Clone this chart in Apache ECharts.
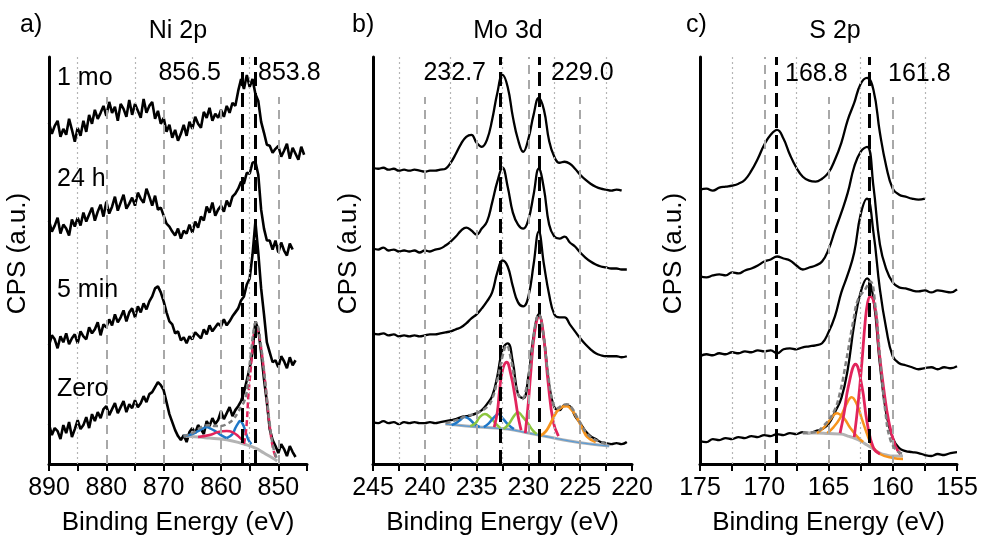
<!DOCTYPE html>
<html>
<head>
<meta charset="utf-8">
<script src="https://cdn.jsdelivr.net/npm/echarts@6/dist/echarts.min.js"></script>
<style>
  html, body { margin: 0; background: #fff; }
  #chart { width: 982px; height: 541px; }
</style>
</head>
<body>
<div id="chart"></div>
<script>
// ---- panel a) Ni 2p ----
const niEnergy = [
  890, 889.5, 889, 888.5, 888, 887.5, 887, 886.5, 886, 885.5,
  885, 884.5, 884, 883.5, 883, 882.5, 882, 881.5, 881, 880.5,
  880, 879.5, 879, 878.5, 878, 877.5, 877, 876.5, 876, 875.5,
  875, 874.5, 874, 873.5, 873, 872.5, 872, 871.5, 871, 870.5,
  870, 869.5, 869, 868.5, 868, 867.5, 867, 866.5, 866, 865.5,
  865, 864.5, 864, 863.5, 863, 862.5, 862, 861.5, 861, 860.5,
  860, 859.5, 859, 858.5, 858, 857.5, 857, 856.5, 856, 855.5,
  855, 854.5, 854, 853.5, 853, 852.5, 852, 851.5, 851, 850.5,
  850, 849.5, 849, 848.5, 848, 847.5, 847, 846.5, 846, 845.5
]
const ni1mo = [
  342, 331, 339, 344, 328, 336, 330, 346, 335, 323,
  337, 329, 344, 333, 350, 341, 355, 346, 352, 359,
  349, 363, 352, 358, 344, 361, 356, 348, 365, 350,
  361, 354, 347, 366, 352, 359, 363, 346, 354, 341,
  347, 333, 340, 327, 335, 324, 331, 340, 329, 343,
  336, 348, 341, 337, 353, 347, 357, 344, 351, 347,
  355, 348, 359, 352, 362, 359, 374, 386, 376, 390,
  378, 386, 371, 364, 343, 332, 320, 319, 312, 316,
  319, 308, 314, 321, 306, 317, 311, 305, 318, 310
]
const ni24h = [
  244, 233, 239, 247, 231, 240, 236, 229, 245, 238,
  247, 239, 252, 243, 250, 257, 244, 253, 260, 248,
  263, 251, 258, 268, 254, 262, 270, 256, 261, 267,
  259, 272, 266, 262, 276, 268, 259, 269, 255, 257,
  249, 241, 238, 233, 229, 236, 226, 234, 231, 240,
  232, 243, 237, 248, 244, 258, 252, 262, 249, 255,
  259, 253, 264, 258, 268, 271, 276, 283, 281, 292,
  291, 302, 303, 290, 255, 236, 224, 224, 215, 224,
  212, 222, 214, 209, 221, 215, null, null, null, null
]
const ni5min = [
  119, 129, 125, 116, 128, 122, 131, 120, 126, 130,
  121, 133, 128, 125, 137, 131, 135, 142, 129, 140,
  137, 145, 139, 150, 142, 147, 154, 143, 152, 156,
  147, 158, 152, 161, 155, 163, 168, 176, 178, 172,
  163, 152, 143, 140, 131, 133, 124, 127, 121, 128,
  125, 132, 129, 126, 135, 130, 139, 133, 137, 141,
  138, 145, 139, 143, 148, 152, 156, 164, 168, 180,
  186, 210, 243, 212, 176, 150, 122, 112, 102, 104,
  97, 108, 103, 96, 107, 99, 104, null, null, null
]
const niZero = [
  40, 29, 36, 33, 25, 39, 31, 42, 27, 35,
  44, 35, 39, 47, 36, 50, 43, 52, 46, 55,
  58, 49, 55, 61, 51, 57, 63, 52, 60, 56,
  64, 57, 61, 68, 62, 70, 72, 77, 82, 79,
  74, 62, 50, 42, 34, 28, 24, 29, 22, 32,
  36, 31, 39, 35, 30, 43, 38, 46, 40, 44,
  53, 45, 51, 57, 48, 54, 58, 63, 72, 84,
  96, 112, 143, 135, 112, 85, 62, 35, 24, 18,
  11, 20, 15, 8, 18, 12, 7, null, null, null
]
// fitted components of the Zero spectrum, [eV, counts]
const niBackground = [[866.5, 28], [864, 27], [862, 26], [860, 25], [858, 23], [856, 20], [854, 16], [852.5, 11], [851, 6], [850.2, 3]]
const niBlue1 = [[866.5, 28], [865, 30], [864, 33], [863, 36], [862.5, 37], [862, 36], [861, 33], [860, 29], [859, 26]]
const niBlue2 = [[859, 26], [858, 30], [857.5, 36], [857, 41], [856.7, 43], [856.2, 40], [855.7, 32], [855.2, 24], [854.7, 20]]
const niRed1 = [[864, 27], [862, 29], [860.5, 32], [859, 33], [858, 32], [857, 28], [856, 22]]
const niRed2 = [[856, 20], [855.6, 35], [855.2, 70], [854.7, 103], [854.3, 128], [853.9, 137], [853.5, 133], [853.2, 124], [852.6, 98], [852, 65], [851.5, 38], [850.9, 15], [850.3, 5]]
const niEnvelope = [[866.5, 28], [865, 31], [864, 35], [863, 38], [862, 39], [861, 38], [860, 38], [859, 40], [858, 44], [857, 52], [856.5, 58], [856, 62], [855.6, 70], [855.2, 90], [854.7, 115], [854.3, 134], [853.9, 142], [853.5, 137], [853.2, 126], [852.6, 99], [852, 66], [851.5, 40], [850.9, 17], [850.3, 6]]
const niMarks = [856.3, 854.0]
const niPeakLabels = ['856.5', '853.8']
const niSeriesNames = ['1 mo', '24 h', '5 min', 'Zero']

// ---- panel b) Mo 3d ----
const moEnergy = [
  245, 244.5, 244, 243.5, 243, 242.5, 242, 241.5, 241, 240.5,
  240, 239.5, 239, 238.5, 238, 237.5, 237, 236.5, 236, 235.5,
  235, 234.5, 234, 233.5, 233, 232.5, 232, 231.5, 231, 230.5,
  230, 229.5, 229, 228.5, 228, 227.5, 227, 226.5, 226, 225.5,
  225, 224.5, 224, 223.5, 223, 222.5, 222, 221.5, 221, 220.5
]
const mo1mo = [
  297, 296, 297, 295, 296, 294, 295, 294, 295, 294,
  293, 294, 294, 295, 296, 302, 311, 321, 328, 330,
  322, 318, 325, 345, 372, 390, 378, 348, 325, 313,
  326, 350, 367, 355, 324, 308, 302, 303, 301, 296,
  290, 285, 281, 278, 276, 275, 274, 275, 274, null
]
const mo24h = [
  216, 215, 217, 214, 215, 213, 214, 213, 214, 212,
  214, 213, 215, 216, 219, 223, 228, 234, 237, 234,
  230, 236, 243, 262, 283, 297, 278, 252, 240, 236,
  245, 270, 296, 276, 240, 228, 226, 228, 222, 218,
  212, 207, 203, 200, 198, 197, 196, 196, 195, 195
]
const mo5min = [
  131, 130, 131, 129, 130, 128, 129, 128, 129, 128,
  129, 130, 130, 131, 132, 133, 135, 137, 141, 146,
  150, 156, 163, 172, 192, 204, 198, 178, 162, 158,
  168, 200, 233, 200, 170, 150, 147, 147, 140, 133,
  126, 120, 115, 111, 109, 108, 108, 108, 107, 108
]
const moZero = [
  42, 41, 43, 41, 42, 40, 42, 41, 42, 41,
  41, 42, 41, 42, 43, 44, 45, 47, 48, 49,
  51, 54, 60, 68, 88, 115, 121, 102, 70, 66,
  88, 128, 150, 125, 80, 57, 54, 59, 58, 48,
  41, 33, 28, 25, 22, 21, 20, 21, 20, 22
]
const moBackground = [[238, 40], [236, 38], [234, 36.5], [232, 35], [230, 31], [228, 27], [226, 23], [224, 20], [222.2, 18]]
const moBlue1 = [[237.4, 39], [237, 41], [236.6, 44], [236.15, 47], [235.7, 45], [235.2, 40], [234.7, 37]]
const moGreen1 = [[235.6, 38], [235.1, 41], [234.7, 47], [234.2, 50], [233.7, 47], [233.2, 41], [232.7, 36]]
const moBlue2 = [[234.3, 37], [233.8, 41], [233.3, 47], [232.9, 50], [232.5, 46], [232, 40], [231.4, 35]]
const moGreen2 = [[232.4, 35], [231.9, 40], [231.4, 48], [231, 52], [230.6, 48], [230, 40], [229.6, 34], [229.2, 30]]
const moRed1 = [[233.3, 37], [233.0, 52], [232.8, 72], [232.5, 94], [232.1, 102], [231.7, 90], [231.3, 68], [231.0, 48], [230.7, 34]]
const moRed2 = [[230.3, 31], [230.0, 62], [229.8, 88], [229.4, 132], [228.95, 148], [228.55, 130], [228.1, 82], [227.6, 42], [227.1, 28]]
const moOrange = [[228.9, 28], [228.3, 33], [227.8, 42], [227.3, 52], [226.8, 57], [226.3, 58], [225.8, 54], [225.3, 46], [224.8, 36], [224.3, 27], [223.5, 22]]
const moEnvelope = [[238, 41], [237, 44], [236, 48], [235, 51], [234, 57], [233.5, 65], [233, 84], [232.5, 108], [232.1, 119], [231.7, 106], [231.3, 82], [231, 70], [230.6, 65], [230.2, 76], [229.8, 100], [229.4, 136], [229, 150], [228.6, 134], [228.1, 90], [227.6, 60], [227.2, 56], [226.7, 59], [226.3, 60], [225.8, 56], [225.3, 47], [224.8, 38], [224.3, 30], [223.5, 24], [222.2, 19]]
const moMarks = [232.7, 228.95]
const moPeakLabels = ['232.7', '229.0']

// ---- panel c) S 2p ----
const sEnergy = [
  175, 174.5, 174, 173.5, 173, 172.5, 172, 171.5, 171, 170.5,
  170, 169.5, 169, 168.5, 168, 167.5, 167, 166.5, 166, 165.5,
  165, 164.5, 164, 163.5, 163, 162.5, 162, 161.5, 161, 160.5,
  160, 159.5, 159, 158.5, 158, 157.5, 157, 156.5, 156, 155.5,
  155
]
const s1mo = [
  275, 276, 274, 277, 278, 279, 281, 285, 294, 306,
  320, 330, 335, 326, 310, 297, 288, 284, 283, 286,
  292, 305, 322, 345, 362, 381, 387, 375, 332, 298,
  276, 270, 268, 266, 265, 266, null, null, null, null,
  null
]
const s24h = [
  188, 187, 189, 190, 189, 192, 191, 194, 196, 199,
  203, 205, 208, 206, 204, 199, 195, 197, 199, 203,
  215, 234, 252, 272, 298, 313, 318, 278, 220, 195,
  182, 177, 176, 174, 173, 174, 172, 174, 173, 172,
  175
]
const s5min = [
  108, 110, 109, 111, 110, 112, 111, 113, 112, 114,
  113, 114, 111, 115, 116, 115, 117, 118, 119, 121,
  132, 148, 172, 190, 212, 250, 266, 232, 175, 135,
  108, 101, 99, 97, 95, 96, 97, 95, 97, 96,
  98
]
const sZero = [
  23, 22, 25, 24, 26, 25, 27, 26, 28, 27,
  29, 28, 30, 29, 31, 30, 32, 31, 33, 35,
  40, 52, 66, 95, 140, 172, 186, 165, 100, 50,
  26, 16, 13, 12, 11, 9, 8, 10, 9, 11,
  12
]
const sBackground = [[167, 31], [166, 31], [165, 30.5], [164, 30], [163.5, 28], [163, 26], [162.5, 23], [162, 19], [161.5, 15], [161, 11], [160.5, 9], [160, 8], [159.2, 8]]
const sOrange1 = [[165.9, 31], [165.4, 36], [164.9, 44], [164.35, 51], [163.8, 46], [163.3, 36], [162.8, 28], [162.3, 22]]
const sOrange2 = [[165.1, 31], [164.6, 37], [164.1, 46], [163.6, 60], [163.2, 67], [162.8, 60], [162.4, 45], [162, 30], [161.6, 18], [161, 10], [160, 6], [159.2, 5]]
const sRed1 = [[164.1, 31], [163.8, 50], [163.45, 78], [162.9, 100], [162.4, 78], [162.0, 42], [161.5, 16], [161, 10]]
const sRed2 = [[163.0, 27], [162.7, 60], [162.4, 102], [162.15, 142], [161.95, 162], [161.75, 168], [161.35, 155], [161.1, 118], [160.7, 75], [160.3, 42], [159.8, 18], [159.4, 10]]
const sEnvelope = [[167, 31], [166, 32], [165.4, 38], [164.6, 52], [164.1, 72], [163.6, 105], [163.05, 145], [162.7, 165], [162.15, 175], [161.75, 183], [161.35, 158], [160.96, 102], [160.57, 52], [160.2, 25], [159.66, 13], [159.1, 10]]
const sMarks = [169.05, 161.8]
const sPeakLabels = ['168.8', '161.8']

// grid lines behind the spectra
const niMajor = [880, 870, 860, 850]
const niMinor = [885, 875, 865, 855]
const moMajor = [240, 235, 230, 225]
const moMinor = [242.5, 237.5, 232.5, 227.5, 222.5]
const sMajor = [170, 165, 160]
const sMinor = [172.5, 167.5, 162.5, 157.5]

const FONT = '"Liberation Sans", Arial, Helvetica, sans-serif'
const Y_MAX = 408
const MAJOR_TOP = 368
const RED = '#e2245c'
const BLUE = '#1f78c8'
const GREEN = '#8cc63f'
const ORANGE = '#f7941d'

const zip = (xs, ys) => xs.map((x, i) => [x, ys[i]])

function spectrum(gi, energy, vals, width, smooth) {
  return {
    type: 'line', xAxisIndex: gi, yAxisIndex: gi, data: zip(energy, vals),
    showSymbol: false, symbol: 'none', smooth, z: 3, silent: true,
    lineStyle: { color: '#000', width },
  }
}

function fitLine(gi, pts, color, width, type, z) {
  return {
    type: 'line', xAxisIndex: gi, yAxisIndex: gi, data: pts,
    showSymbol: false, symbol: 'none', smooth: 0.45, z, silent: true,
    lineStyle: { color, width, type },
  }
}

function gridLines(gi, major, minor, tallMajor) {
  return [
    {
      type: 'line', xAxisIndex: gi, yAxisIndex: gi, data: [], z: 1, silent: true,
      markLine: {
        silent: true, symbol: 'none', label: { show: false }, animation: false,
        lineStyle: { color: '#b5b5b5', width: 1.2, type: [2, 3] },
        data: minor.map((e) => ({ xAxis: e })),
      },
    },
    {
      type: 'line', xAxisIndex: gi, yAxisIndex: gi, data: [], z: 1, silent: true,
      markLine: {
        silent: true, symbol: 'none', label: { show: false }, animation: false,
        lineStyle: { color: '#a8a8a8', width: 2, type: [9, 6] },
        data: major.map((e) => [{ coord: [e, 0] }, { coord: [e, tallMajor.includes(e) ? Y_MAX : MAJOR_TOP] }]),
      },
    },
  ]
}

function markers(gi, marks) {
  return {
    type: 'line', xAxisIndex: gi, yAxisIndex: gi, data: [], z: 6, silent: true,
    markLine: {
      silent: true, symbol: 'none', label: { show: false }, animation: false,
      lineStyle: { color: '#000', width: 3, type: [14, 7] },
      data: marks.map((e) => ({ xAxis: e })),
    },
  }
}

const panels = [
  { left: 49, width: 258, min: 845, max: 890, step: 5, labelStep: 10, yNameGap: 18 },
  { left: 373, width: 259, min: 220, max: 245, step: 2.5, labelStep: 5, yNameGap: 11 },
  { left: 700, width: 257, min: 155, max: 175, step: 2.5, labelStep: 5, yNameGap: 13 },
]

const txt = (text, x, y, align) => ({
  type: 'text', x, y, z: 20, silent: true,
  style: {
    text, fill: '#000', font: '25px ' + FONT,
    align, textAlign: align, verticalAlign: 'middle', textVerticalAlign: 'middle',
  },
})

const chart = echarts.init(document.getElementById('chart'), null, { renderer: 'canvas' })

chart.setOption({
  animation: false,
  backgroundColor: '#fff',
  grid: panels.map((p) => ({ left: p.left, width: p.width, top: 57, height: Y_MAX })),
  xAxis: panels.map((p, i) => ({
    type: 'value', gridIndex: i, min: p.min, max: p.max, interval: p.step, inverse: true,
    axisLine: { show: true, onZero: false, lineStyle: { color: '#000', width: 3 } },
    axisTick: { show: true, length: 7, lineStyle: { color: '#000', width: 2 } },
    axisLabel: {
      color: '#000', fontSize: 25, fontFamily: FONT, margin: 12,
      formatter: (v) => (Math.abs(v / p.labelStep - Math.round(v / p.labelStep)) < 1e-6 ? String(v) : ''),
    },
    splitLine: { show: false },
    name: 'Binding Energy (eV)', nameLocation: 'middle', nameGap: 46,
    nameTextStyle: { color: '#000', fontSize: 26, fontFamily: FONT },
  })),
  yAxis: panels.map((p, i) => ({
    type: 'value', gridIndex: i, min: 0, max: Y_MAX,
    axisLine: { show: true, onZero: false, lineStyle: { color: '#000', width: 3 } },
    axisTick: { show: false }, axisLabel: { show: false }, splitLine: { show: false },
    name: 'CPS (a.u.)', nameLocation: 'middle', nameGap: p.yNameGap,
    nameTextStyle: { color: '#000', fontSize: 26, fontFamily: FONT, padding: [0, 0, 0, 14] },
  })),
  graphic: [
    txt('a)', 20, 25, 'left'), txt('b)', 352, 25, 'left'), txt('c)', 686, 25, 'left'),
    txt('Ni 2p', 178, 31, 'center'), txt('Mo 3d', 508, 31, 'center'), txt('S 2p', 835, 31, 'center'),
    txt(niPeakLabels[0], 221, 73, 'right'), txt(niPeakLabels[1], 258, 73, 'left'),
    txt(moPeakLabels[0], 486, 73, 'right'), txt(moPeakLabels[1], 551, 73, 'left'),
    txt(sPeakLabels[0], 785, 74, 'left'), txt(sPeakLabels[1], 888, 74, 'left'),
    txt(niSeriesNames[0], 57, 78, 'left'), txt(niSeriesNames[1], 57, 179, 'left'),
    txt(niSeriesNames[2], 57, 290, 'left'), txt(niSeriesNames[3], 57, 389, 'left'),
  ],
  series: [
    ...gridLines(0, niMajor, niMinor, []),
    ...gridLines(1, moMajor, moMinor, [230]),
    ...gridLines(2, sMajor, sMinor, [170]),

    spectrum(0, niEnergy, ni1mo, 2.6, false),
    spectrum(0, niEnergy, ni24h, 2.6, false),
    spectrum(0, niEnergy, ni5min, 2.6, false),
    spectrum(0, niEnergy, niZero, 2.6, false),
    fitLine(0, niBackground, '#b3b3b3', 3, 'solid', 4),
    fitLine(0, niBlue1, BLUE, 2.5, 'solid', 4),
    fitLine(0, niBlue2, BLUE, 2.5, 'solid', 4),
    fitLine(0, niRed1, RED, 2.5, 'solid', 4),
    fitLine(0, niRed2, RED, 2.5, [6, 3], 4),
    fitLine(0, niEnvelope, '#808080', 2.5, [5, 3], 5),
    markers(0, niMarks),

    spectrum(1, moEnergy, mo1mo, 2.3, 0.45),
    spectrum(1, moEnergy, mo24h, 2.3, 0.45),
    spectrum(1, moEnergy, mo5min, 2.3, 0.45),
    spectrum(1, moEnergy, moZero, 2.3, 0.45),
    fitLine(1, moBackground, '#b3b3b3', 3, 'solid', 4),
    fitLine(1, moBackground, '#5b9bd5', 1.2, 'solid', 4),
    fitLine(1, moBlue1, BLUE, 2.5, 'solid', 4),
    fitLine(1, moGreen1, GREEN, 2.5, 'solid', 4),
    fitLine(1, moBlue2, BLUE, 2.5, 'solid', 4),
    fitLine(1, moGreen2, GREEN, 2.5, 'solid', 4),
    fitLine(1, moRed1, RED, 2.8, 'solid', 4),
    fitLine(1, moRed2, RED, 2.8, 'solid', 4),
    fitLine(1, moOrange, ORANGE, 2.8, 'solid', 4),
    fitLine(1, moEnvelope, '#808080', 2.5, [5, 3], 5),
    markers(1, moMarks),

    spectrum(2, sEnergy, s1mo, 2.3, 0.45),
    spectrum(2, sEnergy, s24h, 2.3, 0.45),
    spectrum(2, sEnergy, s5min, 2.3, 0.45),
    spectrum(2, sEnergy, sZero, 2.3, 0.45),
    fitLine(2, sBackground, '#b3b3b3', 3, 'solid', 4),
    fitLine(2, sOrange1, ORANGE, 2.5, 'solid', 4),
    fitLine(2, sOrange2, ORANGE, 2.5, 'solid', 4),
    fitLine(2, sRed1, RED, 2.8, 'solid', 4),
    fitLine(2, sRed2, RED, 2.8, 'solid', 4),
    fitLine(2, sEnvelope, '#808080', 2.5, [5, 3], 5),
    markers(2, sMarks),
  ],
})
</script>
</body>
</html>
